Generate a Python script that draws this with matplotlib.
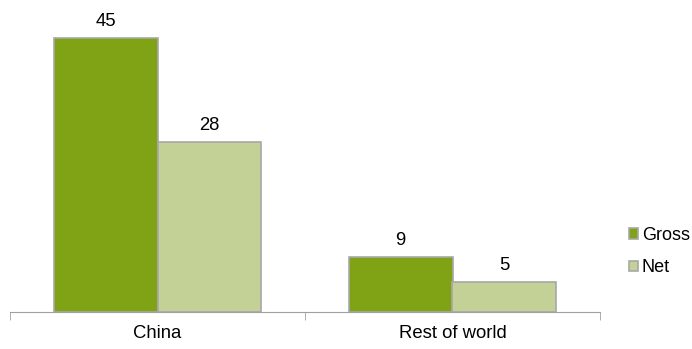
import matplotlib.pyplot as plt
import numpy as np

plt.rcParams['font.family'] = ['Liberation Sans', 'DejaVu Sans']

categories = ["China", "Rest of world"]
gross = [45, 9]
net = [28, 5]

fig = plt.figure(figsize=(6.92, 3.49), dpi=100)
ax = fig.add_axes([10 / 692, 37 / 349, 590 / 692, 292 / 349])

x = np.arange(len(categories))
w = 0.352
b1 = ax.bar(x - w / 2, gross, w, color="#80a315", edgecolor="#a8a8a8", linewidth=1.2, label="Gross")
b2 = ax.bar(x + w / 2, net, w, color="#c3d197", edgecolor="#a8a8a8", linewidth=1.2, label="Net")

for bars in (b1, b2):
    for r in bars:
        ax.text(r.get_x() + r.get_width() / 2, r.get_height() + 1.3, str(int(r.get_height())),
                ha="center", va="bottom", fontsize=13.3)

ax.set_xlim(-0.5, 1.5)
ax.set_ylim(0, 48)
ax.set_yticks([])
for s in ("top", "right", "left"):
    ax.spines[s].set_visible(False)
ax.spines["bottom"].set_color("#a0a0a0")
ax.set_xticks(x)
ax.set_xticklabels(categories, fontsize=13.3)
ax.tick_params(axis="x", which="major", length=0, pad=9)
ax.set_xticks([-0.5, 0.5, 1.5], minor=True)
ax.tick_params(axis="x", which="minor", length=6, color="#a0a0a0")

ax.legend(loc="upper left", bbox_to_anchor=(629 / 692, 1 - 227 / 349), bbox_transform=fig.transFigure,
          frameon=False, fontsize=13, handlelength=0.5, handleheight=0.5, handletextpad=0.2,
          labelspacing=0.85, borderpad=0, borderaxespad=0)

fig.savefig("out.png", dpi=100)
